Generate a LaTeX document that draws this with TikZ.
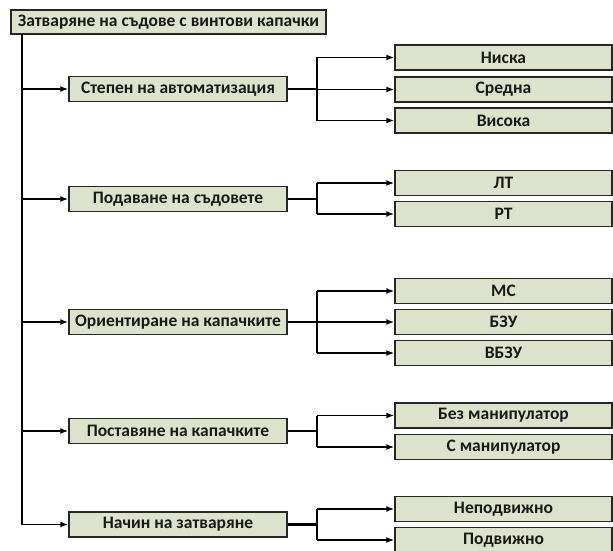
\documentclass[tikz,border=0pt]{standalone}
\usepackage{fontspec}
\setmainfont{Carlito}
\usetikzlibrary{arrows.meta}
\definecolor{boxfill}{RGB}{221,226,204}
\tikzset{
  x=1pt,y=-1pt,
  box/.style={draw=black!85,line width=1.4pt,fill=boxfill,rectangle,inner sep=0pt,
    text=black!90,font=\bfseries\fontsize{17.5}{20}\selectfont},
  rootbox/.style={box,minimum width=315pt,minimum height=24pt},
  midbox/.style={box,minimum width=218pt,minimum height=25pt},
  leafbox/.style={box,minimum width=217pt,minimum height=25pt},
  conn/.style={line width=1.6pt,black},
  arr/.style={conn,-{Latex[length=8pt,width=6pt]}},
  thick conn/.style={line width=2.2pt,black}
}
\begin{document}
\begin{tikzpicture}
\useasboundingbox (0,0) rectangle (613,551);
\node[rootbox] (root) at (168.5,22) {Затваряне на съдове с винтови капачки};
\node[midbox] (s1) at (178,89) {Степен на автоматизация};
\node[midbox] (s2) at (178,199) {Подаване на съдовете};
\node[midbox] (s3) at (178,322) {Ориентиране на капачките};
\node[midbox] (s4) at (178,431) {Поставяне на капачките};
\node[midbox] (s5) at (178,524.5) {Начин на затваряне};

\node[leafbox] (c11) at (503.5,57.5) {Ниска};
\node[leafbox] (c12) at (503.5,89.5) {Средна};
\node[leafbox] (c13) at (503.5,120.5) {Висока};
\node[leafbox] (c21) at (503.5,183) {ЛТ};
\node[leafbox] (c22) at (503.5,214) {РТ};
\node[leafbox] (c31) at (503.5,291) {МС};
\node[leafbox] (c32) at (503.5,322) {БЗУ};
\node[leafbox] (c33) at (503.5,353) {ВБЗУ};
\node[leafbox] (c41) at (503.5,415.5) {Без манипулатор};
\node[leafbox] (c42) at (503.5,447) {С манипулатор};
\node[leafbox] (c51) at (503.5,509) {Неподвижно};
\node[leafbox] (c52) at (503.5,540) {Подвижно};

\coordinate (trunk) at (22,34);
\coordinate (br) at (317,0);

% trunk
\draw[conn] (trunk) -- (trunk |- s5.west);
\foreach \s in {s1,s2,s3,s4,s5}
  \draw[arr] (trunk |- \s.west) -- (\s.west);

% branches
\draw[thick conn] (s1.east) -- (br |- s1.east);
\draw[conn] (br |- c11.west) -- (br |- c13.west);
\foreach \c in {c11,c12,c13} \draw[arr] (br |- \c.west) -- (\c.west);

\draw[thick conn] (s2.east) -- (br |- s2.east);
\draw[conn] (br |- c21.west) -- (br |- c22.west);
\foreach \c in {c21,c22} \draw[arr] (br |- \c.west) -- (\c.west);

\draw[thick conn] (s3.east) -- (br |- s3.east);
\draw[conn] (br |- c31.west) -- (br |- c33.west);
\foreach \c in {c31,c32,c33} \draw[arr] (br |- \c.west) -- (\c.west);

\draw[thick conn] (s4.east) -- (br |- s4.east);
\draw[conn] (br |- c41.west) -- (br |- c42.west);
\foreach \c in {c41,c42} \draw[arr] (br |- \c.west) -- (\c.west);

\draw[thick conn] (s5.east) -- (br |- s5.east);
\draw[conn] (br |- c51.west) -- (br |- c52.west);
\foreach \c in {c51,c52} \draw[arr] (br |- \c.west) -- (\c.west);
\end{tikzpicture}
\end{document}
